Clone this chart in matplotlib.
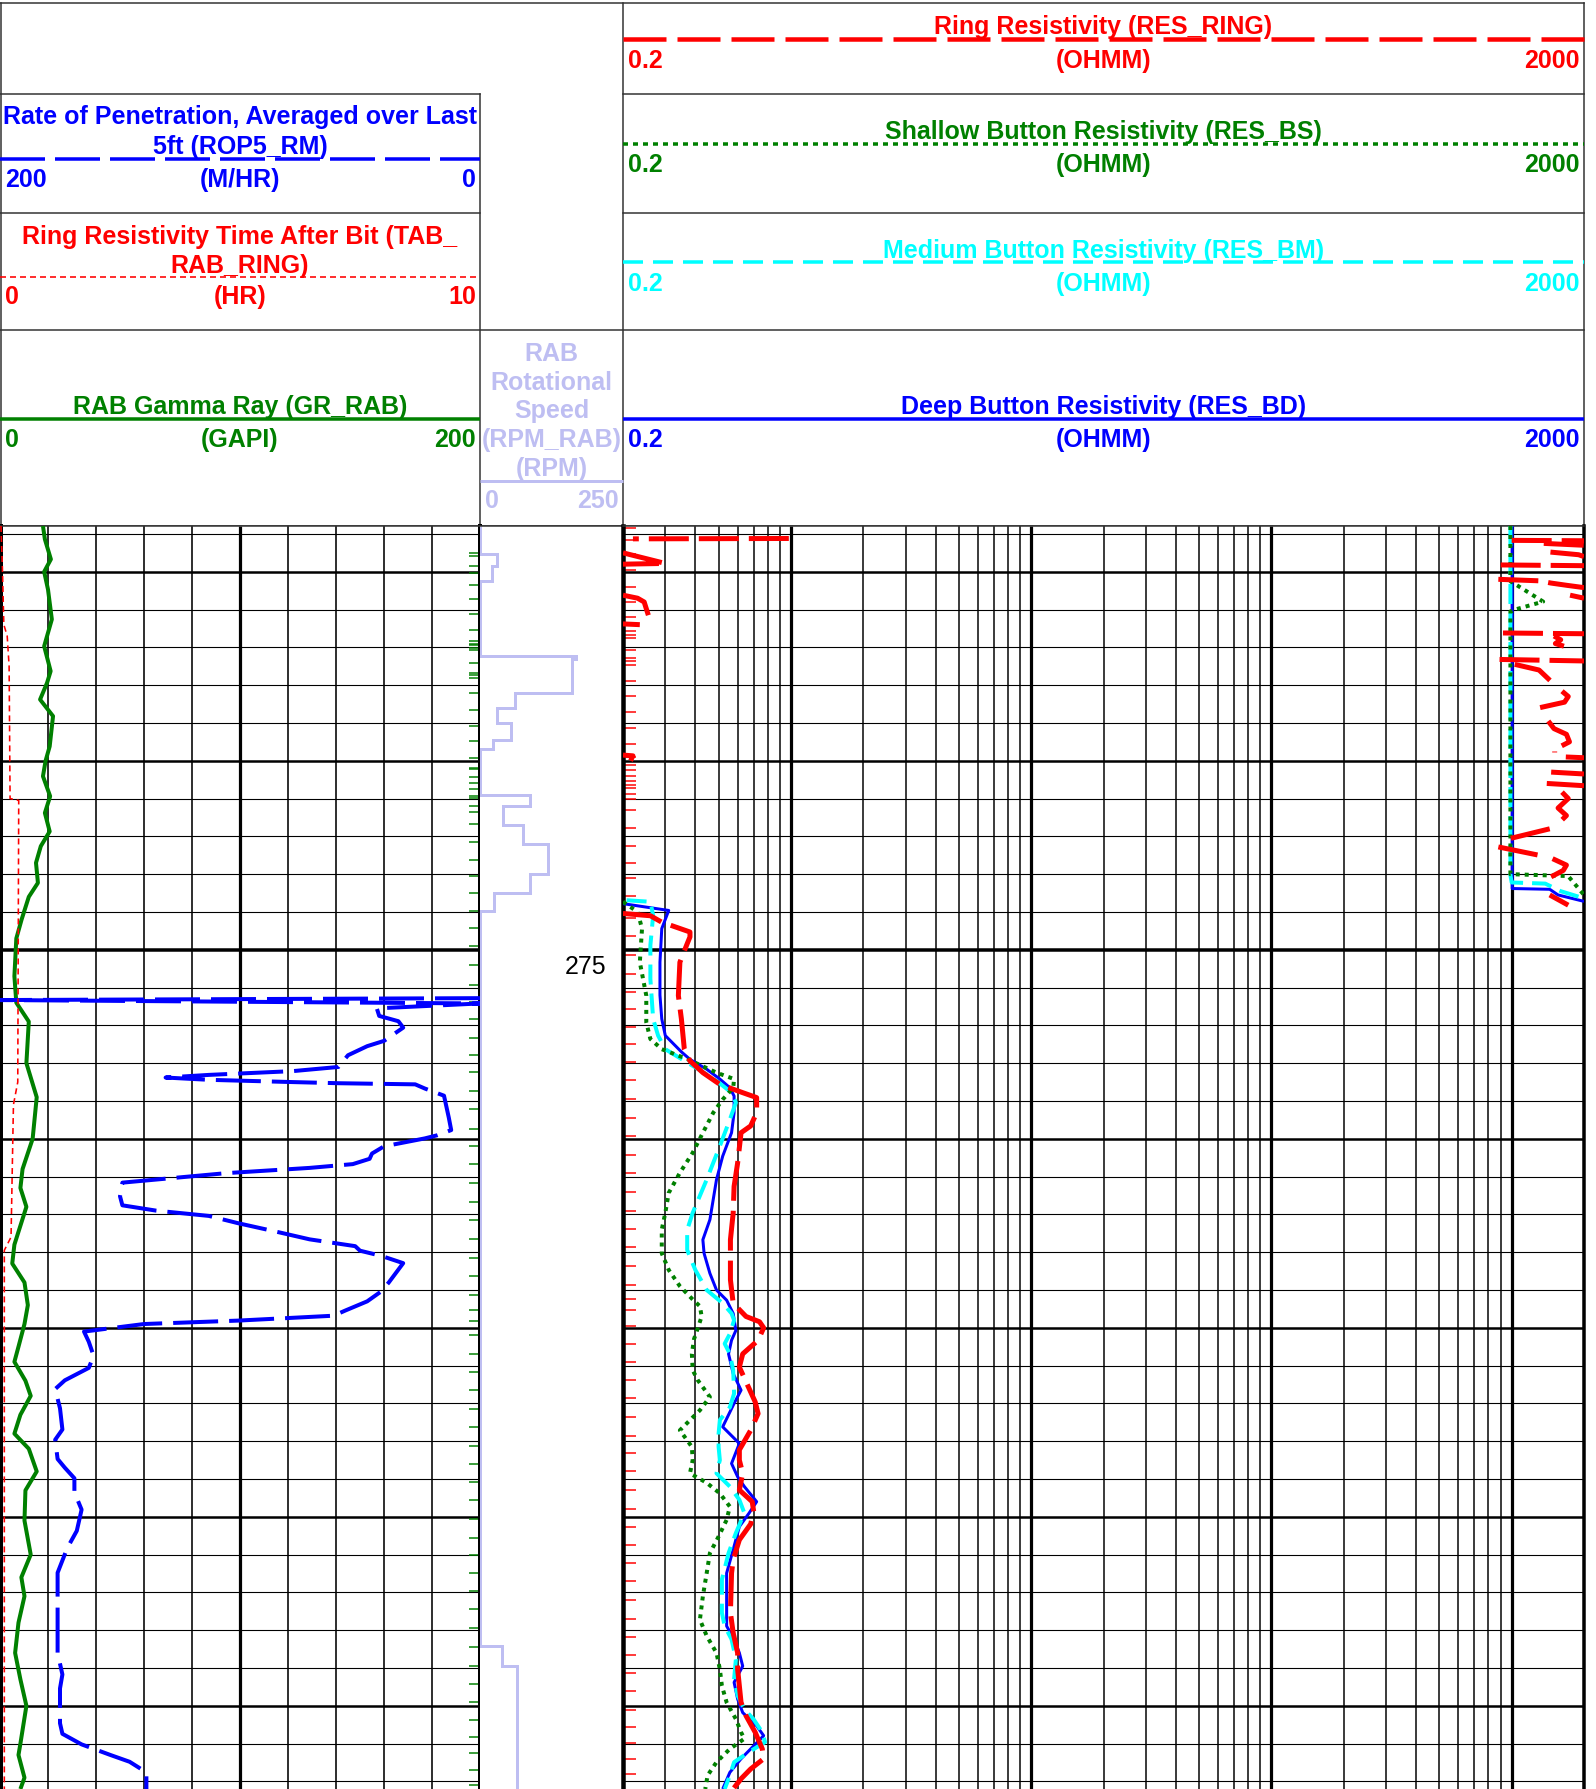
import numpy as np
import matplotlib
matplotlib.use("Agg")
import matplotlib.pyplot as plt

nan = float("nan")

# ------------------------------------------------------------------ data
DEPTH_TOP, DEPTH_BOTTOM = 263.79, 297.20
DEPTH_LABELS = [275]

GR_DEPTH = [263.79, 264.14, 264.67, 265.00, 265.47, 266.26, 266.97, 267.63, 267.94, 268.38,
            268.82, 269.62, 270.00, 270.41, 270.94, 271.38, 271.87, 272.26, 272.70, 273.23,
            273.60, 274.20, 274.70, 275.70, 276.40, 276.90, 278.00, 278.90, 280.00, 280.80,
            281.30, 281.80, 282.80, 283.30, 283.80, 284.40, 284.90, 285.50, 285.90, 286.40,
            286.80, 287.30, 287.80, 288.20, 288.80, 289.30, 290.10, 291.00, 291.60, 292.10,
            292.80, 293.60, 294.30, 295.00, 296.00, 296.30, 296.90, 297.20]
GR_VALUE = [17.9, 18.7, 21.2, 18.4, 20.0, 21.6, 18.4, 21.1, 19.6, 16.7,
            22.1, 20.7, 19.0, 17.9, 20.9, 18.7, 20.7, 17.0, 15.0, 15.8,
            12.0, 9.0, 6.8, 6.0, 6.8, 12.0, 11.0, 15.3, 13.6, 9.4,
            8.5, 11.0, 6.0, 5.1, 10.2, 11.6, 10.2, 7.7, 6.0, 10.6,
            12.8, 8.5, 6.0, 12.0, 15.3, 10.6, 10.2, 12.8, 8.9, 10.2,
            7.7, 6.3, 8.5, 11.0, 8.5, 7.7, 10.2, 8.5]

ROP_DEPTH = [276.28, 276.33, 276.42, 276.55, 276.75, 276.89, 277.06, 277.41, 277.55, 277.79,
             278.10, 278.21, 278.31, 278.38, 278.44, 278.50, 278.53, 278.56, 278.67, 278.86,
             279.44, 279.77, 279.91, 279.99, 280.20, 280.39, 280.53, 280.67, 280.77, 280.91,
             281.16, 281.52, 281.76, 281.90, 282.04, 282.23, 282.47, 282.66, 282.84, 282.96,
             283.10, 283.29, 283.80, 284.03, 284.30, 284.54, 284.68, 284.81, 284.90, 285.10,
             285.37, 285.74, 286.06, 286.39, 286.62, 287.13, 287.69, 287.96, 288.47, 288.70,
             288.98, 289.35, 289.81, 290.37, 290.83, 291.48, 291.94, 293.60, 294.17, 294.54,
             295.00, 295.46, 295.74, 296.02, 296.30, 296.48, 296.76, 297.20]
ROP_VALUE = [0, 200, 0, 43, 42, 34, 32, 40, 47, 55,
             59, 78, 113, 131, 113, 78, 59, 27, 23, 15,
             13, 12, 18, 23, 40, 45, 46, 53, 71, 106,
             149, 150, 149, 135, 113, 101, 84, 71, 52, 50,
             41, 32, 38, 41, 47, 56, 61, 101, 140, 165,
             163, 161, 163, 173, 177, 175, 174, 177, 176, 173,
             169, 169, 166, 168, 172, 176, 176, 176, 174, 175,
             175, 175, 174, 166, 154, 146, 139, 139]

TAB_DEPTH = [263.79, 264.90, 266.40, 266.70, 267.50, 271.00, 271.05, 278.50, 279.10, 282.60,
             282.95, 297.20]
TAB_VALUE = [0.02, 0.05, 0.08, 0.15, 0.19, 0.21, 0.39, 0.37, 0.28, 0.23,
             0.09, 0.09]

RPM_EDGES = [263.79, 264.54, 264.85, 265.25, 267.23, 267.30, 268.20, 268.60, 269.00, 269.44,
             269.70, 270.90, 271.20, 271.70, 272.20, 273.00, 273.50, 273.98, 293.43, 293.94,
             294.44, 297.20]
RPM_VALUE = [0, 30, 21, 0, 168, 161, 62, 30, 55, 23,
             0, 87, 40, 76, 119, 87, 24, 0, 38, 64,
             65]

RES_BD_DEPTH = [263.79, 273.38, 273.40, 273.55, 273.72, nan,
                273.78, 273.96, 274.44, 275.33, 276.20, 276.83, 277.27, 277.70, 277.90, 278.16,
                278.42, 278.65, 278.87, 279.31, 279.84, 280.46, 281.08, 282.14, 282.67, 283.03,
                283.56, 284.00, 284.27, 284.62, 285.07, 285.33, 285.69, 286.21, 286.65, 287.00,
                287.62, 288.06, 288.59, 288.94, 289.20, 289.60, 289.90, 290.26, 290.78, 291.49,
                292.28, 292.89, 293.24, 293.60, 293.95, 294.38, 294.82, 295.18, 295.53, 295.79,
                296.14, 296.40, 296.76, 297.20]
RES_BD_VALUE = [1005, 1005, 1440, 1560, 2000, nan,
                0.20, 0.31, 0.29, 0.285, 0.285, 0.29, 0.30, 0.35, 0.38, 0.446,
                0.506, 0.557, 0.58, 0.58, 0.566, 0.52, 0.49, 0.46, 0.43, 0.435,
                0.46, 0.49, 0.54, 0.575, 0.59, 0.566, 0.55, 0.575, 0.62, 0.58,
                0.52, 0.61, 0.566, 0.60, 0.64, 0.72, 0.67, 0.61, 0.58, 0.54,
                0.54, 0.54, 0.58, 0.61, 0.63, 0.58, 0.60, 0.63, 0.72, 0.77,
                0.68, 0.62, 0.557, 0.52]

RES_BM_DEPTH = [263.79, 273.03, 273.22, 273.25, 273.45, 273.64, nan,
                273.69, 273.73, 274.09, 274.88, 275.77, 276.83, 277.27, 277.63, 278.07, 278.42,
                278.78, 279.04, 279.49, 280.19, 281.08, 281.96, 282.41, 282.94, 283.47, 284.00,
                284.35, 284.62, 284.80, 285.16, 285.42, 285.69, 286.12, 286.74, 287.10, 287.44,
                287.80, 288.15, 288.50, 288.85, 289.20, 289.55, 289.90, 290.43, 290.96, 291.66,
                292.54, 292.89, 293.24, 293.77, 294.30, 294.73, 295.09, 295.36, 295.70, 295.96,
                296.22, 296.49, 296.84, 297.20]
RES_BM_VALUE = [988, 988, 1000, 1380, 1600, 2000, nan,
                0.207, 0.26, 0.267, 0.26, 0.26, 0.267, 0.28, 0.30, 0.39, 0.48,
                0.566, 0.59, 0.557, 0.506, 0.446, 0.39, 0.37, 0.37, 0.40, 0.446,
                0.52, 0.566, 0.58, 0.557, 0.53, 0.557, 0.575, 0.58, 0.557, 0.506,
                0.50, 0.50, 0.506, 0.49, 0.557, 0.61, 0.64, 0.59, 0.55, 0.516,
                0.516, 0.53, 0.566, 0.59, 0.58, 0.60, 0.64, 0.70, 0.76, 0.78,
                0.67, 0.58, 0.557, 0.53]

RES_BS_DEPTH = [263.79, 265.25, 265.79, 266.01, 266.05, 273.00, 273.05, 273.55, nan,
                273.73, 274.00, 274.44, 275.33, 276.21, 276.92, 277.36, 277.63, 277.89, 278.25,
                278.42, 278.65, 278.96, 279.31, 279.84, 280.37, 280.90, 281.43, 281.96, 282.40,
                283.03, 283.47, 283.90, 284.25, 284.43, 284.70, 285.00, 285.30, 285.69, 286.12,
                286.39, 286.83, 287.18, 287.71, 288.15, 288.50, 288.85, 289.10, 289.38, 289.73,
                290.08, 290.52, 290.96, 291.49, 292.10, 292.72, 293.15, 293.60, 294.03, 294.47,
                294.91, 295.35, 295.70, 295.87, 296.14, 296.49, 296.84, 297.20]
RES_BS_VALUE = [988, 988, 1352, 1020, 988, 988, 1718, 2000, nan,
                0.20, 0.23, 0.24, 0.235, 0.25, 0.25, 0.26, 0.29, 0.37, 0.49,
                0.58, 0.575, 0.52, 0.475, 0.43, 0.39, 0.345, 0.31, 0.30, 0.29,
                0.29, 0.31, 0.345, 0.39, 0.418, 0.425, 0.41, 0.395, 0.387, 0.39,
                0.41, 0.46, 0.418, 0.345, 0.387, 0.39, 0.38, 0.446, 0.506, 0.557,
                0.54, 0.50, 0.46, 0.446, 0.43, 0.418, 0.446, 0.49, 0.506, 0.516,
                0.54, 0.59, 0.62, 0.64, 0.557, 0.49, 0.45, 0.44]

# ring resistivity, erratic (partly wrapped) upper section: list of (depth, value) segments
RES_RING_UPPER = [
    [(264.17, 1000), (264.18, 2000)],
    [(264.25, 1360), (264.30, 2000)],
    [(264.48, 1450), (264.55, 1900), (264.60, 2000)],
    [(264.82, 900), (264.84, 2000)],
    [(265.20, 880), (265.24, 1300), (265.30, 1460), (265.36, 1700), (265.42, 2000)],
    [(265.62, 1750), (265.70, 2000)],
    [(266.62, 920), (266.64, 2000)],
    [(266.70, 1500), (266.80, 1600), (266.90, 1520), (266.97, 1650)],
    [(267.32, 890), (267.36, 2000)],
    [(267.45, 1030), (267.60, 1300), (267.94, 1480)],
    [(268.16, 1620), (268.30, 1720), (268.45, 1660), (268.60, 1300), (268.73, 1290)],
    [(268.95, 1420), (269.15, 1500), (269.30, 1690), (269.50, 1740), (269.70, 1510), (269.78, 1510)],
    [(269.90, 1680), (269.92, 2000)],
    [(270.30, 1460), (270.35, 2000)],
    [(270.60, 1400), (270.66, 2000)],
    [(270.83, 1620), (271.00, 1720), (271.25, 1560), (271.45, 1690), (271.58, 1610)],
    [(271.80, 1440), (272.06, 980)],
    [(272.28, 880), (272.50, 1300)],
    [(272.59, 1480), (272.76, 1690), (272.90, 1640), (273.07, 1460)],
    [(273.55, 1440), (273.82, 1720)],
    [(264.12, 0.98), (264.13, 0.22)],
    [(264.50, 0.20), (264.78, 0.30), (264.80, 0.20)],
    [(265.62, 0.20), (265.70, 0.23), (265.80, 0.245), (266.15, 0.255)],
    [(266.38, 0.20), (266.40, 0.235)],
    [(269.85, 0.20), (269.87, 0.22), (270.00, 0.215)],
]
RES_RING_DEPTH = [274.04, 274.10, 274.27, 274.53, 274.66, 274.84, 275.33, 276.21, 276.83, 277.63,
                  277.94, 278.25, 278.56, 278.78, 278.91, 279.31, 279.66, 279.84, 280.64, 281.26,
                  281.96, 282.67, 283.73, 284.35, 284.70, 284.84, 285.00, 285.33, 285.69, 286.04,
                  286.96, 287.27, 287.71, 288.23, 288.50, 288.85, 289.29, 289.60, 289.86, 290.19,
                  290.61, 291.13, 291.49, 292.54, 293.07, 293.60, 294.03, 294.91, 295.26, 295.70,
                  296.14, 296.40, 296.67, 296.93, 297.20]
RES_RING_VALUE = [0.20, 0.26, 0.29, 0.38, 0.38, 0.37, 0.345, 0.34, 0.35, 0.36,
                  0.38, 0.43, 0.506, 0.63, 0.72, 0.72, 0.68, 0.62, 0.60, 0.58,
                  0.575, 0.56, 0.56, 0.575, 0.65, 0.74, 0.77, 0.73, 0.63, 0.61,
                  0.71, 0.73, 0.68, 0.61, 0.61, 0.63, 0.61, 0.69, 0.70, 0.68,
                  0.61, 0.575, 0.566, 0.56, 0.575, 0.60, 0.60, 0.62, 0.65, 0.71,
                  0.76, 0.77, 0.68, 0.62, 0.575]

ROP_MARK_DEPTHS = [264.50, 264.59, 264.85, 265.03, 265.34, 265.73, 266.13, 266.55, 266.84, 266.90,
                   266.95, 267.01, 267.07, 267.41, 267.69, 267.74, 267.81, 268.22, 268.66, 269.07,
                   269.47, 269.92, 270.19, 270.23, 270.43, 270.59, 270.76, 270.92, 270.98, 271.20,
                   271.36, 271.66, 272.15, 272.62, 273.06, 273.50, 273.98, 274.43, 274.90, 275.41,
                   275.92, 276.37, 276.84, 277.33, 277.79, 278.24, 278.73, 279.22, 279.73, 280.20,
                   280.67, 281.17, 281.66, 282.15, 282.66, 283.15, 283.64, 284.12, 284.52, 284.83,
                   285.19, 285.69, 286.17, 286.65, 287.14, 287.62, 288.12, 288.59, 289.07, 289.56,
                   290.05, 290.56, 291.02, 291.48, 291.97, 292.45, 292.94, 293.44, 293.94, 294.42,
                   294.89, 295.37, 295.83, 296.25, 296.69, 297.10]
RING_MARK_DEPTHS = [263.85, 264.15, 264.52, 264.96, 265.40, 265.79, 266.19, 266.58, 266.67, 266.76,
                    267.07, 267.29, 267.37, 267.46, 267.88, 268.30, 268.71, 269.13, 269.55, 269.90,
                    270.10, 270.25, 270.41, 270.54, 270.63, 270.72, 270.87, 271.01, 271.29, 271.77,
                    272.26, 272.70, 273.11, 273.58, 274.16, 274.64, 275.13, 275.64, 276.12, 276.57,
                    277.05, 277.50, 277.96, 278.45, 278.96, 279.44, 279.93, 280.43, 280.91, 281.42,
                    281.91, 282.39, 282.86, 283.36, 283.86, 284.25, 284.54, 284.94, 285.42, 285.91,
                    286.39, 286.87, 287.37, 287.86, 288.32, 288.80, 289.29, 289.80, 290.27, 290.74,
                    291.22, 291.71, 292.19, 292.69, 293.17, 293.65, 294.14, 294.60, 295.10, 295.57,
                    295.98, 296.40, 296.80]

# ------------------------------------------------------------------ style / layout
W, H, DPI = 1596, 1790, 100
plt.rcParams["font.family"] = ["Liberation Sans", "DejaVu Sans"]
plt.rcParams["lines.scale_dashes"] = False
plt.rcParams["lines.solid_capstyle"] = "butt"


def pt(p):
    return p * 72.0 / DPI


BLUE, RED, GREEN, CYAN, LAV = "#0000FF", "#FF0000", "#008000", "#00FFFF", "#BEBEF2"
FS = 18
TY = 2  # small downward offset of header text (px)

X_LEFT1, X_RES0, X_RES1 = 480, 623, 1584
Y_DATA = 527

fig = plt.figure(figsize=(W / DPI, H / DPI), dpi=DPI)


def rect(x0, x1, y0, y1):
    return [x0 / W, 1 - y1 / H, (x1 - x0) / W, (y1 - y0) / H]


# ------------------------------------------------------------------ header
hdr = fig.add_axes([0, 0, 1, 1])
hdr.set_xlim(0, W)
hdr.set_ylim(H, 0)
hdr.axis("off")
bk = dict(color="#303030", lw=pt(1.5), solid_capstyle="projecting")
for xs, ys in [([0, X_RES1], [4, 4]), ([0, X_LEFT1], [95, 95]), ([X_RES0, X_RES1], [95, 95]),
               ([0, X_LEFT1], [214, 214]), ([X_RES0, X_RES1], [214, 214]),
               ([0, X_RES1], [331, 331]), ([0, X_RES1], [Y_DATA, Y_DATA]),
               ([0.8, 0.8], [4, Y_DATA]), ([X_LEFT1, X_LEFT1], [95, Y_DATA]),
               ([X_RES0, X_RES0], [4, Y_DATA]), ([X_RES1, X_RES1], [4, Y_DATA])]:
    hdr.plot(xs, ys, **bk)

# legend lines
hdr.plot([0, X_LEFT1], [160, 160], color=BLUE, lw=pt(3.5), dashes=(pt(45), pt(10)))
hdr.plot([0, X_LEFT1], [278, 278], color=RED, lw=pt(1.6), dashes=(pt(6), pt(4)))
hdr.plot([0, X_LEFT1], [420, 420], color=GREEN, lw=pt(3.5))
hdr.plot([X_LEFT1, X_RES0], [482, 482], color=LAV, lw=pt(3))
hdr.plot([X_RES0, X_RES1], [40, 40], color=RED, lw=pt(4.5), dashes=(pt(43), pt(11)))
hdr.plot([X_RES0, X_RES1], [145, 145], color=GREEN, lw=pt(3.5), dashes=(pt(5), pt(5)))
hdr.plot([X_RES0, X_RES1], [263, 263], color=CYAN, lw=pt(3.5), dashes=(pt(20), pt(10)))
hdr.plot([X_RES0, X_RES1], [420, 420], color=BLUE, lw=pt(3.5))


def htxt(x, y, s, c, ha="center"):
    hdr.text(x, y + TY, s, color=c, ha=ha, va="center", fontsize=FS, fontweight="bold")


cL = X_LEFT1 / 2
htxt(cL, 115, "Rate of Penetration, Averaged over Last", BLUE)
htxt(cL, 145, "5ft (ROP5_RM)", BLUE)
htxt(5, 178, "200", BLUE, "left"); htxt(cL, 178, "(M/HR)", BLUE); htxt(476, 178, "0", BLUE, "right")
htxt(cL, 235, "Ring Resistivity Time After Bit (TAB_", RED)
htxt(cL, 264, "RAB_RING)", RED)
htxt(5, 295, "0", RED, "left"); htxt(cL, 295, "(HR)", RED); htxt(476, 295, "10", RED, "right")
htxt(cL, 405, "RAB Gamma Ray (GR_RAB)", GREEN)
htxt(5, 438, "0", GREEN, "left"); htxt(cL, 438, "(GAPI)", GREEN); htxt(476, 438, "200", GREEN, "right")

cM = (X_LEFT1 + X_RES0) / 2
for yy, s in zip([352, 381, 409, 438, 467], ["RAB", "Rotational", "Speed", "(RPM_RAB)", "(RPM)"]):
    htxt(cM, yy, s, LAV)
htxt(485, 499, "0", LAV, "left"); htxt(619, 499, "250", LAV, "right")

cR = (X_RES0 + X_RES1) / 2
for ty, ly, s, c in [(25, 59, "Ring Resistivity (RES_RING)", RED),
                     (130, 163, "Shallow Button Resistivity (RES_BS)", GREEN),
                     (249, 282, "Medium Button Resistivity (RES_BM)", CYAN),
                     (405, 438, "Deep Button Resistivity (RES_BD)", BLUE)]:
    htxt(cR, ty, s, c)
    htxt(628, ly, "0.2", c, "left")
    htxt(cR, ly, "(OHMM)", c)
    htxt(1580, ly, "2000", c, "right")

# ------------------------------------------------------------------ data tracks
ax_gr = fig.add_axes(rect(0, X_LEFT1, Y_DATA, H))
ax_rpm = fig.add_axes(rect(X_LEFT1, X_RES0, Y_DATA, H), sharey=ax_gr)
ax_res = fig.add_axes(rect(X_RES0, X_RES1, Y_DATA, H), sharey=ax_gr)
ax_rop = fig.add_axes(rect(0, X_LEFT1, Y_DATA, H), sharey=ax_gr)
ax_tab = fig.add_axes(rect(0, X_LEFT1, Y_DATA, H), sharey=ax_gr)

ax_gr.set_ylim(DEPTH_BOTTOM, DEPTH_TOP)
ax_gr.set_xlim(0, 200)
ax_rop.set_xlim(200, 0)
ax_tab.set_xlim(0, 10)
ax_rpm.set_xlim(0, 250)
ax_res.set_xscale("log")
ax_res.set_xlim(0.2, 2000)

for a in [ax_gr, ax_rpm, ax_res, ax_rop, ax_tab]:
    a.tick_params(which="both", length=0, labelleft=False, labelbottom=False)
    a.set_xticks([]); a.set_yticks([])
    a.minorticks_off()
for a in [ax_rop, ax_tab]:
    a.axis("off")
    a.patch.set_visible(False)
for a in [ax_gr, ax_rpm, ax_res]:
    a.spines["bottom"].set_visible(False)
    a.spines["top"].set_linewidth(pt(1.5))
    a.spines["top"].set_color("#303030")
for s in ["left", "right"]:
    ax_rpm.spines[s].set_visible(False)
ax_gr.spines["left"].set_linewidth(pt(5))
ax_gr.spines["right"].set_linewidth(pt(4))
ax_res.spines["left"].set_linewidth(pt(4.5))
ax_res.spines["right"].set_linewidth(pt(3.5))

# depth grid
for d in np.arange(264, 298):
    lw = pt(3.5) if d % 25 == 0 else (pt(2.5) if d % 5 == 0 else pt(1.1))
    for a in [ax_gr, ax_res]:
        a.axhline(d, color="black", lw=lw, zorder=1)
# linear grid
for v in np.arange(20, 200, 20):
    ax_gr.axvline(v, color="black", lw=pt(3.2) if v == 100 else pt(1.6), zorder=1)
# log grid
for e in range(-1, 4):
    for m in range(1, 10):
        v = m * 10.0 ** e
        if 0.2 < v < 1999:
            ax_res.axvline(v, color="black", lw=pt(3.2) if m == 1 else pt(1.5), zorder=1)

# sample marks
ax_gr.hlines(ROP_MARK_DEPTHS, 0.977, 0.996, transform=ax_gr.get_yaxis_transform(),
             color=GREEN, lw=pt(1.5), zorder=2)
ax_res.hlines(RING_MARK_DEPTHS, 0.0, 0.0135, transform=ax_res.get_yaxis_transform(),
              color=RED, lw=pt(1.5), zorder=2)

# depth labels
for d in DEPTH_LABELS:
    ax_rpm.text(0.735, d + 0.42, str(d), transform=ax_rpm.get_yaxis_transform(),
                ha="center", va="center", fontsize=FS, color="black")

# curves
ax_tab.plot(TAB_VALUE, TAB_DEPTH, color=RED, lw=pt(1.6), dashes=(pt(6), pt(4)), zorder=3)
ax_gr.plot(GR_VALUE, GR_DEPTH, color=GREEN, lw=pt(4), zorder=3)
ax_rop.plot(ROP_VALUE, ROP_DEPTH, color=BLUE, lw=pt(4), dashes=(pt(45), pt(11)), zorder=4)
ax_rpm.stairs(RPM_VALUE, RPM_EDGES, orientation="horizontal", baseline=None,
              color=LAV, lw=pt(3))

ax_res.plot(RES_BD_VALUE, RES_BD_DEPTH, color=BLUE, lw=pt(3), zorder=3)
ax_res.plot(RES_BM_VALUE, RES_BM_DEPTH, color=CYAN, lw=pt(4), dashes=(pt(20), pt(9)), zorder=4)
ax_res.plot(RES_BS_VALUE, RES_BS_DEPTH, color=GREEN, lw=pt(4), dashes=(pt(4), pt(5)), zorder=5)
ring_kw = dict(color=RED, lw=pt(5), dashes=(pt(40), pt(10)), zorder=6)
for seg in RES_RING_UPPER:
    ax_res.plot([p[1] for p in seg], [p[0] for p in seg], **ring_kw)
ax_res.plot(RES_RING_VALUE, RES_RING_DEPTH, **ring_kw)

ax_gr.set_ylim(DEPTH_BOTTOM, DEPTH_TOP)
fig.savefig("out.png", dpi=DPI)
